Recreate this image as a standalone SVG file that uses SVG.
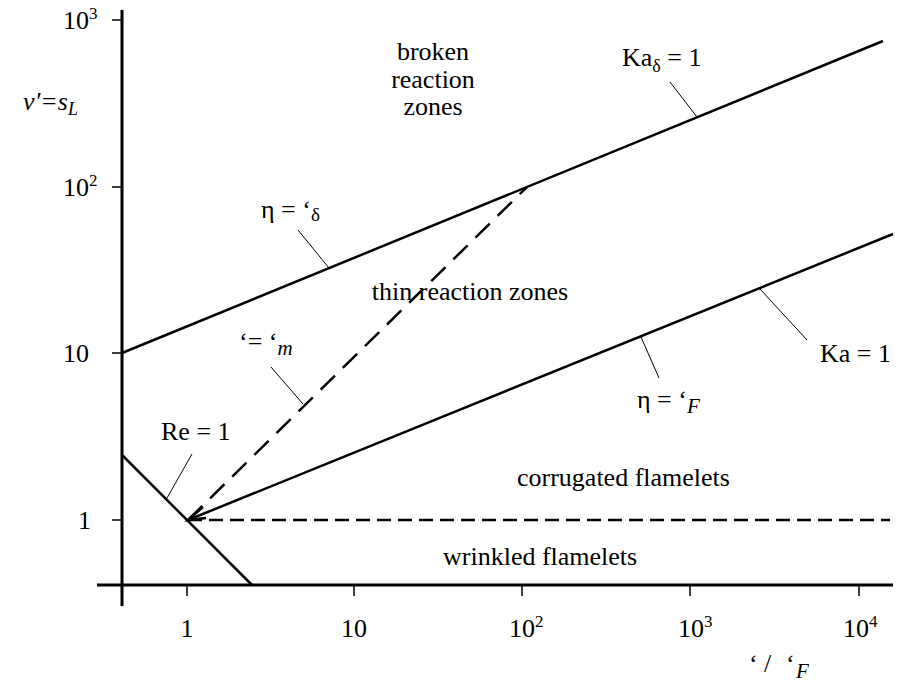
<svg xmlns="http://www.w3.org/2000/svg" width="900" height="684" viewBox="0 0 900 684">
<style>
text{font-family:'Liberation Serif','DejaVu Serif',serif;font-size:26px;fill:#000}
.it{font-style:italic}
.sup{font-size:17px}
.sub{font-size:21px}
.ax{stroke:#000;stroke-width:3;fill:none}
.tk{stroke:#000;stroke-width:1.5;fill:none}
.ln{stroke:#000;stroke-width:2.5;fill:none}
.ld{stroke:#000;stroke-width:1;fill:none}
.dh{stroke:#000;stroke-width:2.5;fill:none;stroke-dasharray:14 7}
.dd{stroke:#000;stroke-width:2.5;fill:none;stroke-dasharray:20 11}
</style>
<rect width="900" height="684" fill="#fff"/>
<g id="axes">
<line class="ax" x1="122" y1="10" x2="122" y2="606"/>
<line class="ax" x1="97" y1="585" x2="893" y2="585"/>
<line class="tk" x1="112" y1="20" x2="122" y2="20"/>
<line class="tk" x1="112" y1="187" x2="122" y2="187"/>
<line class="tk" x1="112" y1="353" x2="122" y2="353"/>
<line class="tk" x1="112" y1="520" x2="122" y2="520"/>
<line class="tk" x1="187" y1="585" x2="187" y2="596"/>
<line class="tk" x1="354" y1="585" x2="354" y2="596"/>
<line class="tk" x1="522" y1="585" x2="522" y2="596"/>
<line class="tk" x1="690" y1="585" x2="690" y2="596"/>
<line class="tk" x1="859" y1="585" x2="859" y2="596"/>
<text x="63" y="29">10<tspan class="sup" dy="-10">3</tspan></text>
<text x="63" y="196">10<tspan class="sup" dy="-10">2</tspan></text>
<text x="63" y="362">10</text>
<text x="91" y="529" text-anchor="end">1</text>
<text x="187" y="637" text-anchor="middle">1</text>
<text x="354" y="637" text-anchor="middle">10</text>
<text x="509" y="637">10<tspan class="sup" dy="-10">2</tspan></text>
<text x="678" y="637">10<tspan class="sup" dy="-10">3</tspan></text>
<text x="843" y="637">10<tspan class="sup" dy="-10">4</tspan></text>
<text x="78" y="110" text-anchor="end" class="it">v′=s<tspan dy="5" font-size="18">L</tspan></text>
<text x="749" y="672">‘<tspan x="764">/</tspan><tspan x="786">‘</tspan><tspan x="796" dy="6" class="sub it">F</tspan></text>
</g>
<g id="connectors">
<line class="ln" x1="122" y1="353" x2="883" y2="41"/>
<line class="ln" x1="188" y1="520" x2="893" y2="234"/>
<line class="ln" x1="122" y1="455" x2="252" y2="585"/>
<line class="dd" x1="188" y1="520" x2="527" y2="187"/>
<line class="dh" x1="188" y1="520" x2="890" y2="520"/>
<polyline class="ln" points="203,507 188,520 206,518"/>
<line class="ld" x1="670" y1="82" x2="697" y2="117"/>
<line class="ld" x1="298" y1="230" x2="329" y2="268"/>
<line class="ld" x1="271" y1="367" x2="303" y2="404"/>
<line class="ld" x1="192" y1="454" x2="167" y2="498"/>
<line class="ld" x1="641" y1="337" x2="659" y2="378"/>
<line class="ld" x1="760" y1="289" x2="807" y2="340"/>
</g>
<g id="broken">
<text x="433" y="60" text-anchor="middle">broken</text>
<text x="433" y="88" text-anchor="middle">reaction</text>
<text x="433" y="115" text-anchor="middle">zones</text>
</g>
<g id="kad"><text x="622" y="66">Ka<tspan dy="6" font-size="18">δ</tspan><tspan dy="-6"> = 1</tspan></text></g>
<g id="etad"><text x="261" y="218">η = ‘<tspan dy="3" font-size="19">δ</tspan></text></g>
<g id="thin"><text x="470" y="300" text-anchor="middle">thin reaction zones</text></g>
<g id="lm"><text x="239" y="350">‘= ‘<tspan dy="5" class="sub it">m</tspan></text></g>
<g id="etaf"><text x="637" y="408">η = ‘<tspan dy="5" class="sub it">F</tspan></text></g>
<g id="ka"><text x="820" y="362">Ka = 1</text></g>
<g id="re"><text x="161" y="440">Re = 1</text></g>
<g id="corr"><text x="517" y="486">corrugated flamelets</text></g>
<g id="wrink"><text x="443" y="565">wrinkled flamelets</text></g>
</svg>
